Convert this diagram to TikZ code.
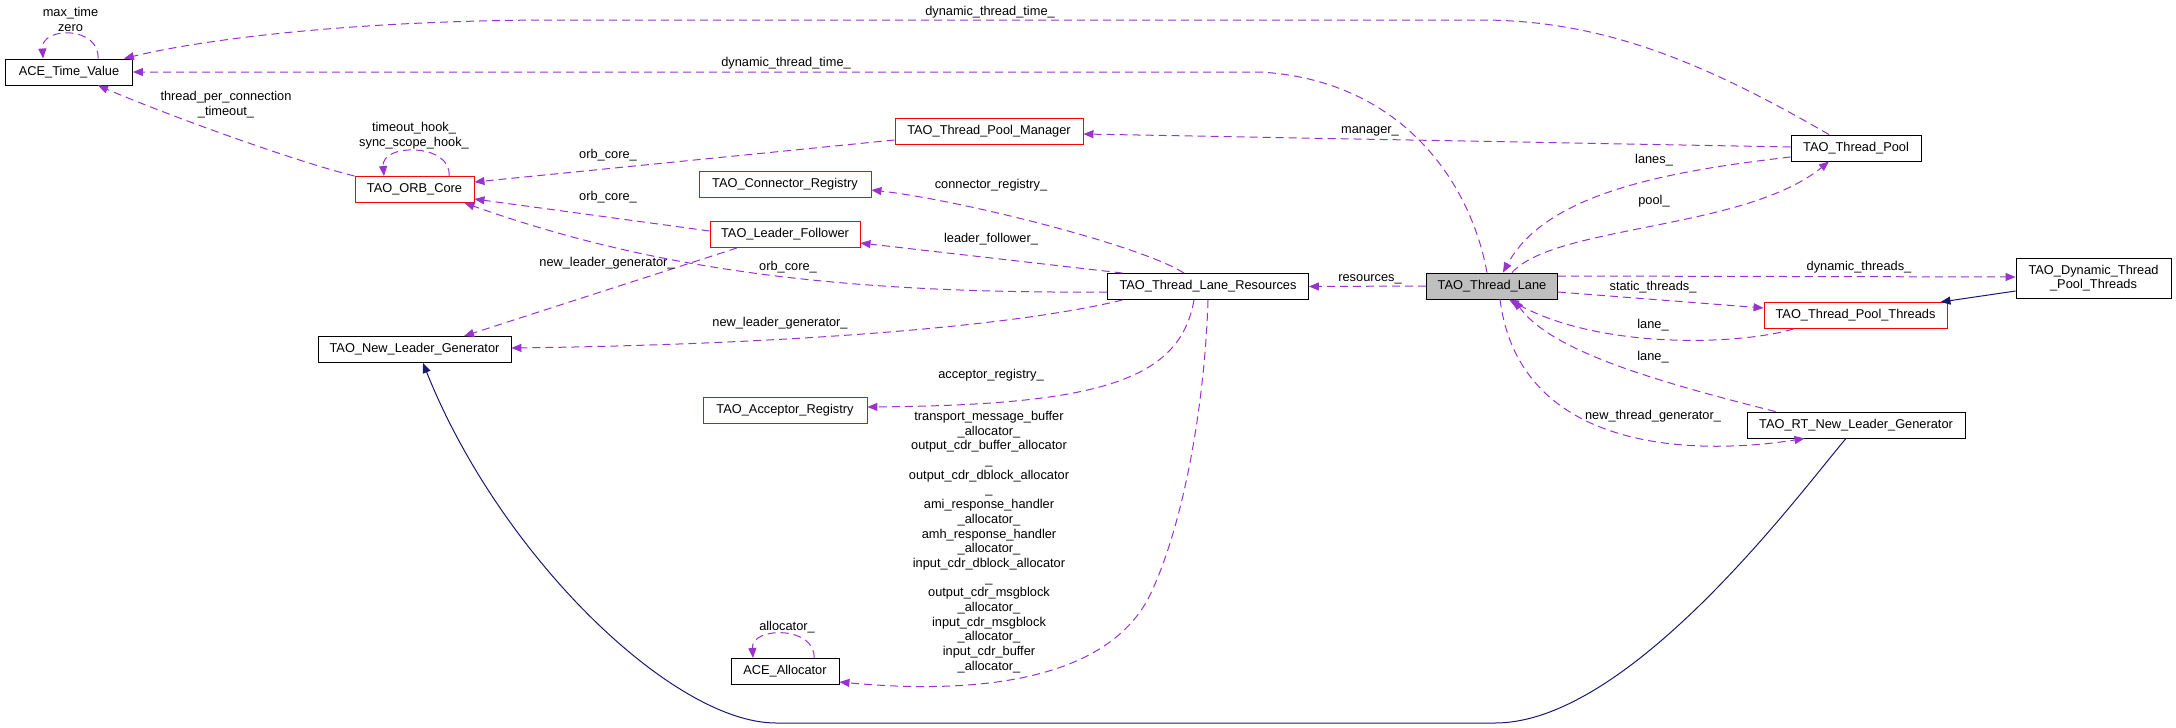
\documentclass[tikz,border=0pt]{standalone}
\usepackage{fontspec}
\setmainfont{Liberation Sans}
\usetikzlibrary{arrows.meta,calc}
\definecolor{epurple}{HTML}{9A32CD}
\definecolor{enavy}{HTML}{191970}
\definecolor{bred}{HTML}{FF0000}
\definecolor{lanegray}{HTML}{BFBFBF}
\begin{document}
\begin{tikzpicture}[x=1pt,y=-1pt,
  font=\fontsize{12.8}{14.7}\selectfont,
  cls/.style={draw=black,line width=0.9pt,minimum height=26pt,inner sep=0pt,align=center},
  trunc/.style={cls,draw=bred},
  lbl/.style={inner sep=0pt,align=center},
  uses/.style={draw=epurple,line width=1pt,dash pattern=on 8pt off 5pt,-{Triangle[length=10pt,width=8pt]}},
  inh/.style={draw=enavy,line width=1pt,-{Triangle[length=10pt,width=8pt]}}]
\useasboundingbox (0,0) rectangle (2176,728);
% classes
\node[cls,minimum width=127pt] (acetv) at (69,72) {ACE\_Time\_Value};
\node[trunc,minimum width=119pt] (orb) at (414.5,189.5) {TAO\_ORB\_Core};
\node[trunc,minimum width=188pt] (tpm) at (989,131) {TAO\_Thread\_Pool\_Manager};
\node[trunc,minimum width=172pt] (conn) at (785,184) {TAO\_Connector\_Registry};
\node[trunc,minimum width=150pt] (lf) at (785,234.5) {TAO\_Leader\_Follower};
\node[cls,minimum width=193pt] (nlg) at (414.5,349.5) {TAO\_New\_Leader\_Generator};
\node[trunc,minimum width=164pt] (acc) at (785,410.5) {TAO\_Acceptor\_Registry};
\node[cls,minimum width=108pt] (alloc) at (785,671.5) {ACE\_Allocator};
\node[cls,minimum width=201pt] (tlr) at (1208,286.5) {TAO\_Thread\_Lane\_Resources};
\node[cls,fill=lanegray,minimum width=131pt] (lane) at (1492,286) {TAO\_Thread\_Lane};
\node[cls,minimum width=130pt] (tp) at (1856,148) {TAO\_Thread\_Pool};
\node[trunc,minimum width=183pt] (tpt) at (1855.5,315.5) {TAO\_Thread\_Pool\_Threads};
\node[cls,minimum width=218pt] (rt) at (1856,425) {TAO\_RT\_New\_Leader\_Generator};
\node[cls,minimum width=155pt,minimum height=40pt] (dyn) at (2093.5,278) {TAO\_Dynamic\_Thread\\\_Pool\_Threads};
% self loops
\draw[uses] ($(acetv.north)+(29,0)$) .. controls (100,26) and (41,26) .. ($(acetv.north)+(-26,0)$);
\draw[uses] ($(orb.north)+(34.5,0)$) .. controls (452,143) and (381,143) .. ($(orb.north)+(-30.5,0)$);
\draw[uses] ($(alloc.north)+(29,0)$) .. controls (816,626) and (751,626) .. ($(alloc.north)+(-32,0)$);
% usage edges
\draw[uses] (orb.north west) .. controls (290,160) and (160,112) .. ($(acetv.south)+(29,0)$);
\draw[uses] ($(tpm.west)+(0,9)$) -- ($(orb.east)+(0,-7.5)$);
\draw[uses] ($(lf.west)+(0,-3.5)$) -- ($(orb.east)+(0,9.5)$);
\draw[uses] ($(tlr.west)+(0,5.5)$) .. controls (820,294) and (640,265) .. ($(orb.south east)+(-10,0)$);
\draw[uses] ($(tp.west)+(0,-1)$) -- ($(tpm.east)+(0,3)$);
\draw[uses] ($(tlr.north)+(-24,0)$) .. controls (1140,245) and (960,200) .. ($(conn.east)+(0,6)$);
\draw[uses] ($(tlr.north west)+(15.5,0)$) -- ($(lf.east)+(0,8.5)$);
\draw[uses] ($(lf.south)+(-48,0)$) -- ($(nlg.north)+(49.5,0)$);
\draw[uses] ($(tlr.south west)+(15.5,0)$) .. controls (1000,330) and (750,345) .. ($(nlg.east)+(0,-1.5)$);
\draw[uses] ($(tlr.south)+(-14,0)$) .. controls (1180,380) and (1100,405) .. ($(acc.east)+(0,-3.5)$);
\draw[uses] (tlr.south) .. controls (1205,400) and (1185,520) .. (1151,593) .. controls (1110,680) and (980,695) .. ($(alloc.east)+(0,10.5)$);
\draw[uses] (lane.west) -- (tlr.east);
\draw[uses] ($(lane.north)+(-5,0)$) .. controls (1470,180) and (1400,80) .. (1260,72) -- (acetv.east);
\draw[uses] ($(tp.north)+(-27,0)$) .. controls (1700,60) and (1600,20) .. (1480,20) -- (560,20) .. controls (350,20) and (200,40) .. ($(acetv.north east)+(-9,0)$);
\draw[uses] ($(tp.west)+(0,9)$) .. controls (1660,172) and (1545,195) .. ($(lane.north)+(11,0)$);
\draw[uses] ($(lane.north)+(20,0)$) .. controls (1555,225) and (1745,230) .. ($(tp.south)+(-27,0)$);
\draw[uses] ($(lane.east)+(0,-10)$) -- ($(dyn.west)+(0,-1)$);
\draw[uses] ($(lane.east)+(0,6)$) -- ($(tpt.west)+(0,-7.5)$);
\draw[uses] ($(tpt.south west)+(30,0)$) .. controls (1740,345) and (1600,350) .. ($(lane.south)+(17,0)$);
\draw[uses] ($(rt.north west)+(29,0)$) .. controls (1650,380) and (1550,350) .. ($(lane.south)+(22,0)$);
\draw[uses] ($(lane.south)+(8,0)$) .. controls (1520,455) and (1700,455) .. ($(rt.south west)+(58,0)$);
% inheritance
\draw[inh] ($(dyn.west)+(0,13)$) -- ($(tpt.north east)+(-7,0)$);
\draw[inh] ($(rt.south)+(-10,0)$) .. controls (1802,490) and (1631,723) .. (1495,723) -- (776,723) .. controls (673,723) and (500,556) .. ($(nlg.south)+(8.5,0)$);
% labels
\node[lbl] (lmaxzero) at (70.5,19.5) {max\_time\\zero};
\node[lbl] (ltpc) at (226,104.5) {thread\_per\_connection\\\_timeout\_};
\node[lbl] (lhooks) at (414,136) {timeout\_hook\_\\sync\_scope\_hook\_};
\node[lbl] (ldtta) at (990,12) {dynamic\_thread\_time\_};
\node[lbl] (ldttb) at (786,63) {dynamic\_thread\_time\_};
\node[lbl] (lorba) at (608,155) {orb\_core\_};
\node[lbl] (lorbb) at (608,197) {orb\_core\_};
\node[lbl] (lorbc) at (788,267) {orb\_core\_};
\node[lbl] (lmgr) at (1370,131) {manager\_};
\node[lbl] (lconn) at (991,185) {connector\_registry\_};
\node[lbl] (llf) at (991,239) {leader\_follower\_};
\node[lbl] (lnlga) at (607,263) {new\_leader\_generator\_};
\node[lbl] (lnlgb) at (780,323) {new\_leader\_generator\_};
\node[lbl] (lacc) at (991,375) {acceptor\_registry\_};
\node[lbl] (lalloc) at (989,542) {transport\_message\_buffer\\\_allocator\_\\output\_cdr\_buffer\_allocator\\\_\\output\_cdr\_dblock\_allocator\\\_\\ami\_response\_handler\\\_allocator\_\\amh\_response\_handler\\\_allocator\_\\input\_cdr\_dblock\_allocator\\\_\\output\_cdr\_msgblock\\\_allocator\_\\input\_cdr\_msgblock\\\_allocator\_\\input\_cdr\_buffer\\\_allocator\_};
\node[lbl] (lallocself) at (787,627) {allocator\_};
\node[lbl] (lres) at (1370,279) {resources\_};
\node[lbl] (llanes) at (1654,160) {lanes\_};
\node[lbl] (lpool) at (1654,201) {pool\_};
\node[lbl] (ldynthr) at (1859,267) {dynamic\_threads\_};
\node[lbl] (lstatic) at (1653,287) {static\_threads\_};
\node[lbl] (llanea) at (1653,325) {lane\_};
\node[lbl] (llaneb) at (1653,357) {lane\_};
\node[lbl] (lntg) at (1653,416) {new\_thread\_generator\_};
\end{tikzpicture}
\end{document}
